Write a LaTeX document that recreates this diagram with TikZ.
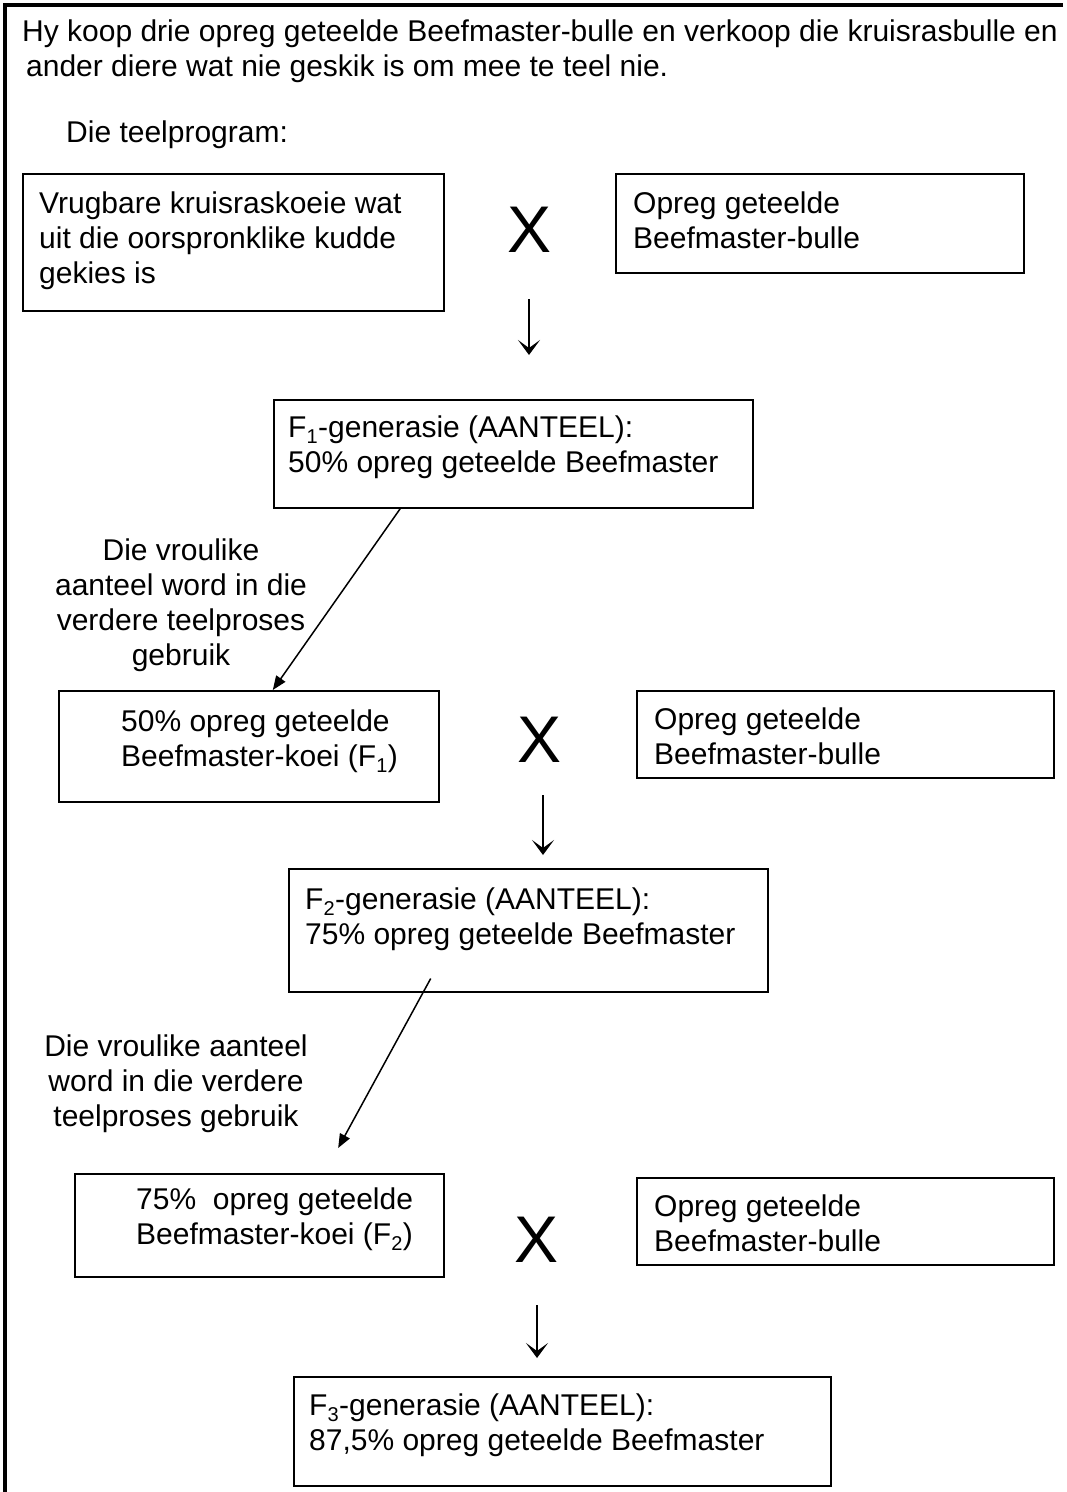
\documentclass[tikz,border=0pt]{standalone}
\usepackage{fontspec}
\usepackage{tikz}
\setmainfont{Liberation Sans}
\usetikzlibrary{arrows.meta, positioning, calc}
\tikzset{
	cell/.style     ={rectangle, draw=black, line width=1.5pt, anchor=north west, inner sep=0pt},
	celltext/.style ={anchor=north west, align=left, inner sep=0pt},
	note/.style     ={anchor=north, align=center, inner sep=0pt},
	crossmark/.style={font=\fontsize{66}{66}\selectfont, inner sep=0pt},
	downarrow/.style={-{Stealth[length=15pt, width=22pt, inset=8pt]}, line width=2pt},
	slantarrow/.style={-{Triangle[length=14pt, width=11pt]}, line width=1.5pt},
	framerule/.style={line width=4pt},
}
\newcommand{\gen}[1]{\textsubscript{\fontsize{20}{20}\selectfont #1}}

\begin{document}
\begin{tikzpicture}[x=1pt, y=-1pt, font=\fontsize{30}{35}\selectfont]
	\useasboundingbox (0,0) rectangle (1067,1492);
	\draw[framerule] (1063,5) -- (5,5) -- (5,1492);
	\node[celltext] (intro) at (22,20) {Hy koop drie opreg geteelde Beefmaster-bulle en verkoop die kruisrasbulle en\\\hspace*{4pt}ander diere wat nie geskik is om mee te teel nie.};
	\node[celltext] (program) at (66,121) {Die teelprogram:};
	% eerste kruising
	\node[cell, minimum width=421pt, minimum height=137pt] (koeie) at (22,173) {};
	\node[celltext] (koeietxt) at (39,192) {Vrugbare kruisraskoeie wat\\uit die oorspronklike kudde\\gekies is};
	\node[crossmark] (x1) at (530,230) {X};
	\node[cell, minimum width=408pt, minimum height=99pt] (bulle1) at (615,173) {};
	\node[celltext] (bulle1txt) at (633,192) {Opreg geteelde\\Beefmaster-bulle};
	\coordinate (d1a) at (529,299);
	\coordinate (d1b) at (529,355);
	\draw[downarrow] (d1a) -- (d1b);
	\node[cell, minimum width=479pt, minimum height=108pt] (f1gen) at (273,399) {};
	\node[celltext] (f1gentxt) at (288,416) {F\gen{1}-generasie (AANTEEL):\\50\% opreg geteelde Beefmaster};
	\node[note] (keuse1) at (181,539) {Die vroulike\\aanteel word in die\\verdere teelproses\\gebruik};
	% tweede kruising
	\node[cell, minimum width=380pt, minimum height=111pt] (f1koei) at (58,690) {};
	\node[celltext] (f1koeitxt) at (121,710) {50\% opreg geteelde\\Beefmaster-koei (F\gen{1})};
	\draw[slantarrow] ($(f1gen.south west)!0.265!(f1gen.south east)$) -- ($(f1koei.north west)!0.563!(f1koei.north east)$);
	\node[crossmark] (x2) at (540,740) {X};
	\node[cell, minimum width=417pt, minimum height=87pt] (bulle2) at (636,690) {};
	\node[celltext] (bulle2txt) at (654,708) {Opreg geteelde\\Beefmaster-bulle};
	\coordinate (d2a) at (543,795);
	\coordinate (d2b) at (543,855);
	\draw[downarrow] (d2a) -- (d2b);
	\node[cell, minimum width=479pt, minimum height=123pt] (f2gen) at (288,868) {};
	\node[celltext] (f2gentxt) at (305,888) {F\gen{2}-generasie (AANTEEL):\\75\% opreg geteelde Beefmaster};
	\node[note] (keuse2) at (176,1035) {Die vroulike aanteel\\word in die verdere\\teelproses gebruik};
	% derde kruising
	\node[cell, minimum width=369pt, minimum height=103pt] (f2koei) at (74,1173) {};
	\node[celltext] (f2koeitxt) at (136,1188) {75\%\ \ opreg geteelde\\Beefmaster-koei (F\gen{2})};
	\draw[slantarrow] ($(f2gen.south west)!0.297!(f2gen.south east)+(0,-14)$) -- ($(f2koei.north west)!0.713!(f2koei.north east)+(0,-25)$);
	\node[crossmark] (x3) at (537,1240) {X};
	\node[cell, minimum width=417pt, minimum height=87pt] (bulle3) at (636,1177) {};
	\node[celltext] (bulle3txt) at (654,1195) {Opreg geteelde\\Beefmaster-bulle};
	\coordinate (d3a) at (537,1305);
	\coordinate (d3b) at (537,1358);
	\draw[downarrow] (d3a) -- (d3b);
	\node[cell, minimum width=537pt, minimum height=109pt] (f3gen) at (293,1376) {};
	\node[celltext] (f3gentxt) at (309,1394) {F\gen{3}-generasie (AANTEEL):\\87,5\% opreg geteelde Beefmaster};
\end{tikzpicture}
\end{document}
